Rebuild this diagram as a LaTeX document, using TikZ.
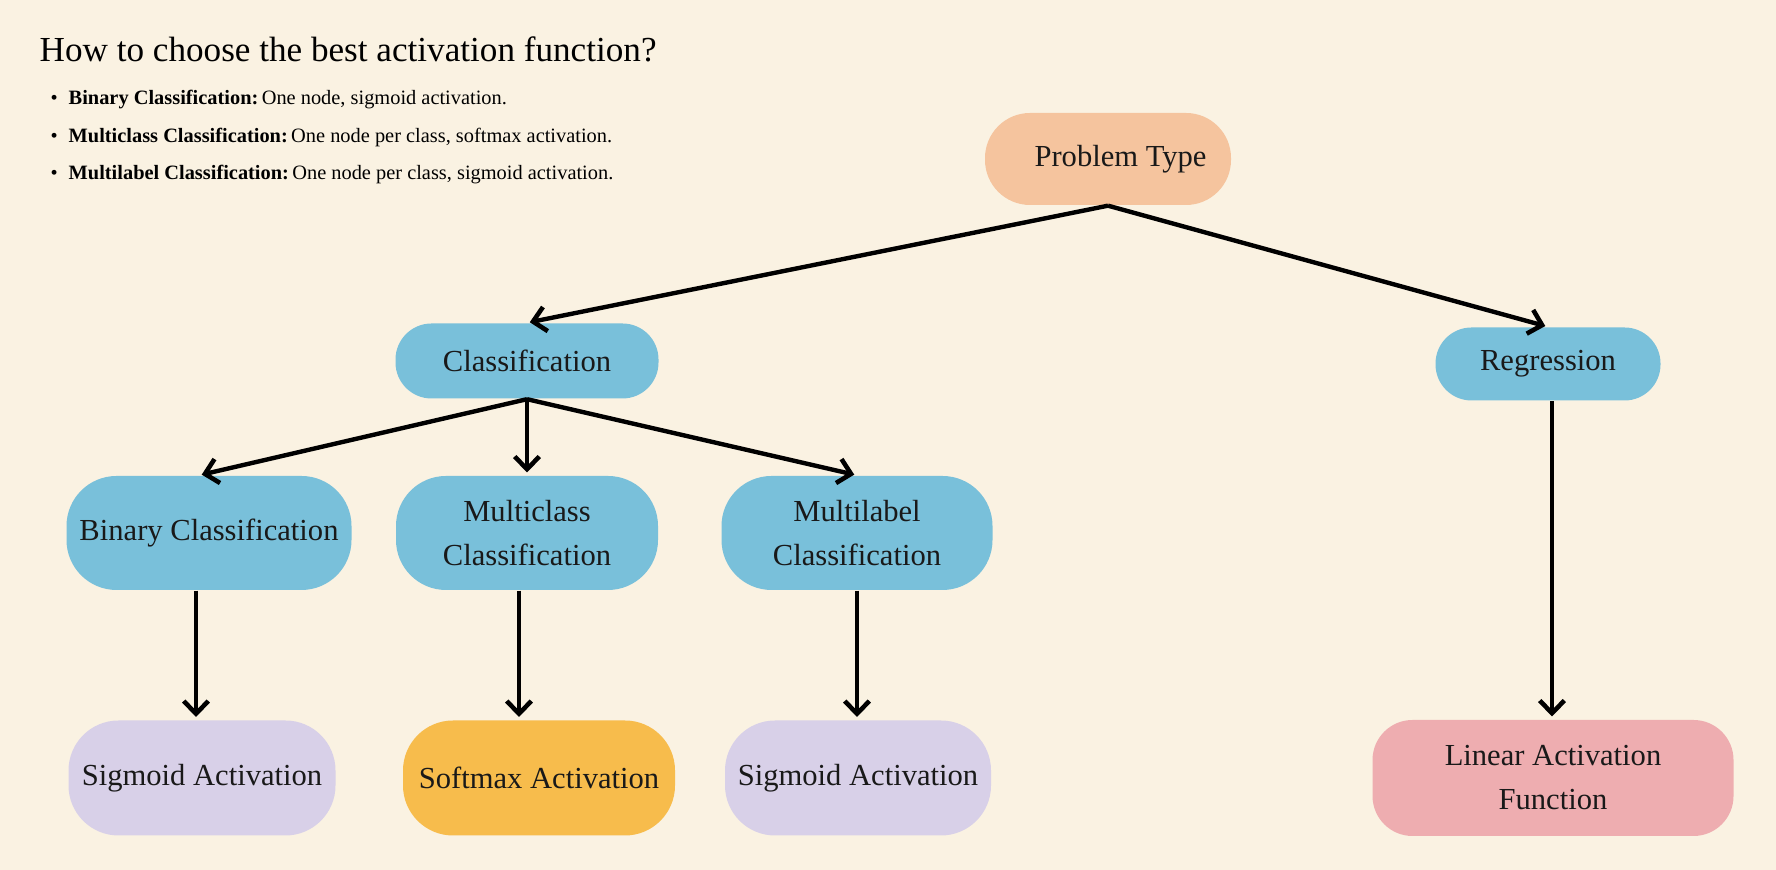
\documentclass[tikz,border=0pt]{standalone}
\usepackage{fontspec}
\setmainfont{Liberation Serif}
\usepackage{tikz}
\usetikzlibrary{arrows.meta}

\definecolor{paper}{RGB}{250,242,226}
\definecolor{peach}{RGB}{245,196,158}
\definecolor{skyblue}{RGB}{121,192,218}
\definecolor{lavender}{RGB}{216,208,232}
\definecolor{amber}{RGB}{247,188,76}
\definecolor{rose}{RGB}{238,173,176}

\begin{document}
\begin{tikzpicture}[
    box/.style={rectangle, inner sep=0pt, align=center, text=black!90,
        font=\fontsize{8.7}{12.5}\selectfont},
    arr/.style={-{Straight Barb[length=3.6pt,width=7pt,line width=1.3pt]},
        line width=1.25pt, shorten >=0.8pt}
  ]
            % Background
            \fill[paper] (0,0) rectangle (17.76,8.70);

            % Title and notes
            \node[anchor=west, inner sep=0pt, font=\fontsize{10}{12}\selectfont] (title) at (0.39,8.21) {How to choose the best activation function?};
            \node[anchor=west, inner sep=0pt, font=\fontsize{5.8}{7}\selectfont] (note1) at (0.50,7.70) {\makebox[0.18cm][l]{•}\textbf{Binary Classification:}\,One node, sigmoid activation.};
            \node[anchor=west, inner sep=0pt, font=\fontsize{5.8}{7}\selectfont] (note2) at (0.50,7.32) {\makebox[0.18cm][l]{•}\textbf{Multiclass Classification:}\,One node per class, softmax activation.};
            \node[anchor=west, inner sep=0pt, font=\fontsize{5.8}{7}\selectfont] (note3) at (0.50,6.95) {\makebox[0.18cm][l]{•}\textbf{Multilabel Classification:}\,One node per class, sigmoid activation.};

            % Root
            \node[box, fill=peach, rounded corners=0.45cm, minimum width=2.46cm, minimum height=0.92cm] (prob) at (11.08,7.11) {\hspace*{0.25cm}Problem Type};

            % Second level
            \node[box, fill=skyblue, rounded corners=0.36cm, minimum width=2.63cm, minimum height=0.75cm] (cls) at (5.27,5.09) {Classification};
            \node[box, fill=skyblue, rounded corners=0.36cm, minimum width=2.25cm, minimum height=0.73cm] (reg) at (15.48,5.06) {Regression};

            % Third level
            \node[box, fill=skyblue, rounded corners=0.5cm, minimum width=2.85cm, minimum height=1.14cm] (bin) at (2.09,3.37) {Binary Classification};
            \node[box, fill=skyblue, rounded corners=0.5cm, minimum width=2.62cm, minimum height=1.14cm] (mcl) at (5.27,3.37) {Multiclass\\Classification};
            \node[box, fill=skyblue, rounded corners=0.5cm, minimum width=2.71cm, minimum height=1.14cm] (mlb) at (8.57,3.37) {Multilabel\\Classification};

            % Output activations
            \node[box, fill=lavender, rounded corners=0.5cm, minimum width=2.67cm, minimum height=1.15cm] (sig1) at (2.02,0.92) {Sigmoid Activation};
            \node[box, fill=amber, rounded corners=0.5cm, minimum width=2.72cm, minimum height=1.15cm] (soft) at (5.39,0.92) {Softmax Activation};
            \node[box, fill=lavender, rounded corners=0.5cm, minimum width=2.66cm, minimum height=1.15cm] (sig2) at (8.58,0.92) {Sigmoid Activation};
            \node[box, fill=rose, rounded corners=0.4cm, minimum width=3.61cm, minimum height=1.16cm] (lin) at (15.53,0.92) {Linear Activation\\Function};

            % Connectors
            \draw[arr] (prob.south) -- (cls.north);
            \draw[arr] (prob.south) -- (reg.north);
            \draw[arr] (cls.south) -- ([xshift=-0.1cm]bin.north);
            \draw[arr] (cls.south) -- (mcl.north);
            \draw[arr] (cls.south) -- (mlb.north);
            \draw[arr] ([xshift=-0.13cm]bin.south) -- ([xshift=-0.13cm]bin.south |- sig1.north);
            \draw[arr] ([xshift=-0.08cm]mcl.south) -- ([xshift=-0.08cm]mcl.south |- soft.north);
            \draw[arr] (mlb.south) -- (mlb.south |- sig2.north);
            \draw[arr] ([xshift=0.04cm]reg.south) -- ([xshift=0.04cm]reg.south |- lin.north);
        \end{tikzpicture}
\end{document}
